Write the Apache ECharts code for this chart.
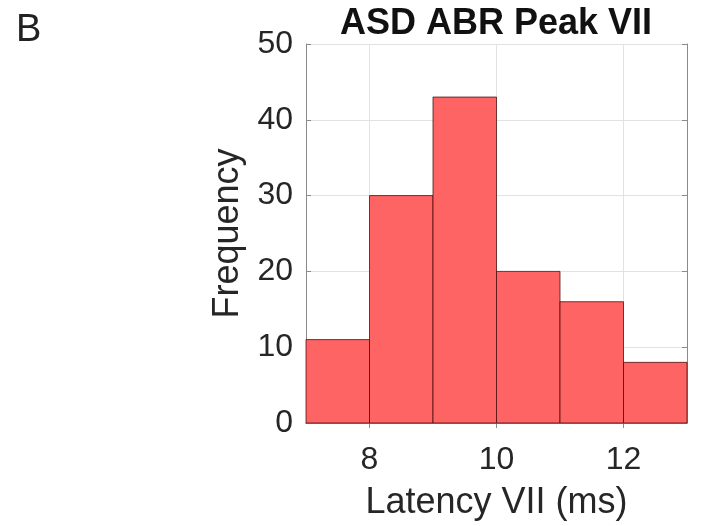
<!DOCTYPE html>
<html><head><meta charset="utf-8">
<script src="https://cdn.jsdelivr.net/npm/echarts@6/dist/echarts.min.js"></script>
<style>html,body{margin:0;padding:0;background:#fff}#c{width:709px;height:526px}</style>
</head><body><div id="c"></div>
<script>
const binEdges = [7, 8, 9, 10, 11, 12, 13];
const counts = [11, 30, 43, 20, 16, 8];
const xTicks = [8, 10, 12];
const yTicks = [0, 10, 20, 30, 40, 50];
const titleText = 'ASD ABR Peak VII';
const xName = 'Latency VII (ms)';
const yName = 'Frequency';
const panelLabel = 'B';

const FONT = 'Liberation Sans';
const bars = counts.map((c, i) => [binEdges[i], binEdges[i + 1], c]);
const chart = echarts.init(document.getElementById('c'), null, {renderer: 'canvas'});
const axisCol = '#8a8a8a';
const gridCol = '#e2e2e2';
const xMin = binEdges[0], xMax = binEdges[binEdges.length - 1];
const yMin = yTicks[0], yMax = yTicks[yTicks.length - 1];

chart.setOption({
  animation: false,
  title: {text: titleText, left: 496, top: 6, padding: 0, textAlign: 'center',
    textStyle: {fontFamily: FONT, fontWeight: 'bold', fontSize: 36, color: '#111'}},
  graphic: [{type: 'text', left: 16, top: 12, style: {text: panelLabel, font: '38px "' + FONT + '"', fill: '#222'}}],
  grid: {left: 306, top: 44, right: 22, bottom: 101, show: false},
  xAxis: [
    {type: 'value', min: xMin, max: xMax, position: 'bottom',
     axisLine: {show: true, lineStyle: {color: axisCol, width: 1}},
     axisTick: {show: true, inside: true, length: 5, customValues: xTicks, lineStyle: {color: axisCol}},
     axisLabel: {customValues: xTicks, fontFamily: FONT, fontSize: 32, color: '#262626', margin: 21},
     splitLine: {show: false},
     name: xName, nameLocation: 'middle', nameGap: 62,
     nameTextStyle: {fontFamily: FONT, fontSize: 36, color: '#262626'}},
    {type: 'value', min: xMin, max: xMax, position: 'top',
     axisLine: {show: true, lineStyle: {color: axisCol, width: 1}},
     axisTick: {show: true, inside: true, length: 5, customValues: xTicks, lineStyle: {color: axisCol}},
     axisLabel: {show: false}, splitLine: {show: false}}
  ],
  yAxis: [
    {type: 'value', min: yMin, max: yMax, interval: 10, position: 'left',
     axisLine: {show: true, lineStyle: {color: axisCol, width: 1}},
     axisTick: {show: true, inside: true, length: 5, lineStyle: {color: axisCol}},
     axisLabel: {fontFamily: FONT, fontSize: 32, color: '#262626', margin: 13},
     splitLine: {show: true, lineStyle: {color: gridCol, width: 1}},
     name: yName, nameLocation: 'middle', nameGap: 54,
     nameTextStyle: {fontFamily: FONT, fontSize: 36, color: '#262626'}},
    {type: 'value', min: yMin, max: yMax, interval: 10, position: 'right',
     axisLine: {show: true, lineStyle: {color: axisCol, width: 1}},
     axisTick: {show: true, inside: true, length: 5, lineStyle: {color: axisCol}},
     axisLabel: {show: false}, splitLine: {show: false}}
  ],
  series: [
    {type: 'line', data: [], xAxisIndex: 0, yAxisIndex: 0, z: 0, zlevel: 0, silent: true,
     markLine: {silent: true, z: 0, symbol: ['none', 'none'], label: {show: false},
       lineStyle: {color: gridCol, type: 'solid', width: 1},
       data: xTicks.map(v => ({xAxis: v}))}},
    {type: 'custom', xAxisIndex: 0, yAxisIndex: 0, z: 10, data: bars,
     renderItem: function (params, api) {
       const p0 = api.coord([api.value(0), 0]);
       const p1 = api.coord([api.value(1), api.value(2)]);
       return {type: 'rect',
         shape: {x: p0[0], y: p1[1], width: p1[0] - p0[0], height: p0[1] - p1[1]},
         style: {fill: '#ff6464', stroke: 'rgba(70,10,10,0.75)', lineWidth: 1}};
     }}
  ]
});
</script></body></html>
